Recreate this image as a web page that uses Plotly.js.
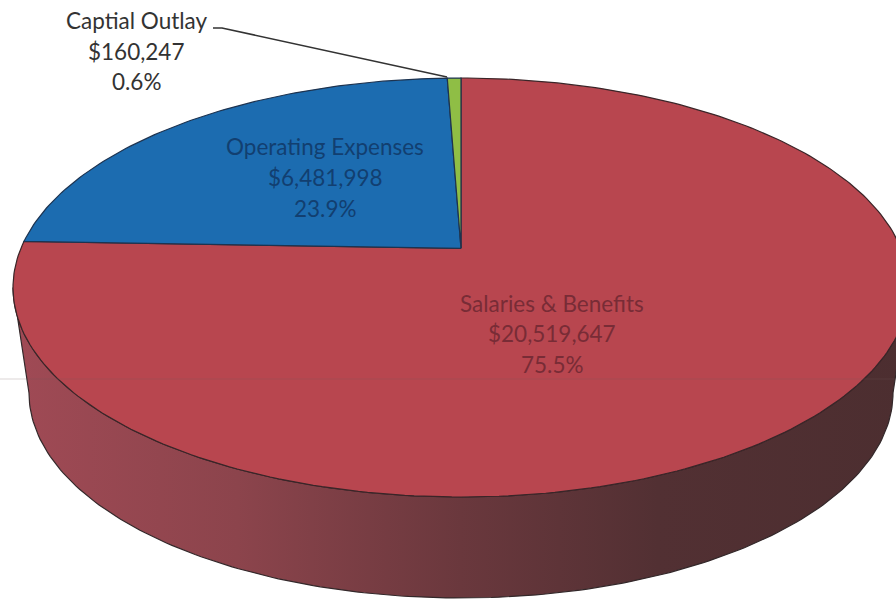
<!DOCTYPE html>
<html>
<head>
<meta charset="utf-8">
<script src="https://cdn.plot.ly/plotly-3.0.1.min.js"></script>
<style>html,body{margin:0;padding:0;background:#fff}#chart{width:896px;height:599px}</style>
</head>
<body>
<div id="chart"></div>
<script>
// Budget split by category, drawn clockwise from twelve o'clock.
const categories = ["Salaries & Benefits", "Operating Expenses", "Captial Outlay"];
const amounts = [20519647, 6481998, 160247];
const amountLabels = ["$20,519,647", "$6,481,998", "$160,247"];
const percentLabels = ["75.5%", "23.9%", "0.6%"];
const sliceColors = ["#b8464f", "#1c6cb0", "#8fbe45"];
const labelColors = ["#782c36", "#123f70", "#333333"];
const labelCentres = [[552, 303], [325, 146], [136, 20]];
const labelLineGaps = [[0, 30, 61], [0, 31, 62], [0, 31, 61]];

// Disc geometry in plot units: top face, tilt of the centre, lower rim.
const face = {cx: 461, cy: 287.5, rx: 448, ry: 209.5, tilt: 0.187};
const rim = {cx: 461, cy: 393, rx: 432, ry: 205};

// Perspective projection of a point on the unit circle onto the top face.
function project(theta) {
  const u = Math.sin(theta), v = Math.cos(theta), a = face.tilt;
  const d = 1 + a * v;
  return [face.cx + face.rx * u * Math.sqrt(1 - a * a) / d,
          face.cy - face.ry * (v + a) / d];
}
const apex = [face.cx, face.cy - face.ry * face.tilt];
const total = amounts.reduce((s, x) => s + x, 0);

const traces = [];

// Side wall: lower half of the top face's rim joined to the lower rim.
const sideX = [], sideY = [];
for (let i = 0; i <= 180; i++) {
  const t = Math.PI * i / 180;
  sideX.push(rim.cx - rim.rx * Math.cos(t));
  sideY.push(rim.cy + rim.ry * Math.sin(t));
}
for (let i = 0; i <= 180; i++) {
  const t = Math.PI * i / 180;
  sideX.push(face.cx + face.rx * Math.cos(t));
  sideY.push(face.cy + face.ry * Math.sin(t));
}
sideX.push(sideX[0]); sideY.push(sideY[0]);
traces.push({
  x: sideX, y: sideY, mode: "lines", fill: "toself",
  line: {color: "#33282a", width: 1.2},
  fillgradient: {type: "horizontal", colorscale: [
    [0, "#a04a55"], [0.25, "#8c444c"], [0.5, "#6a383d"], [0.72, "#523033"], [1, "#4c2e30"]
  ]},
  hoverinfo: "skip", showlegend: false
});

// Top-face wedges, sized from the amounts.
let start = 0;
amounts.forEach((amount, k) => {
  const sweep = 2 * Math.PI * amount / total;
  const steps = Math.max(4, Math.round(360 * amount / total));
  const xs = [apex[0]], ys = [apex[1]];
  for (let i = 0; i <= steps; i++) {
    const p = project(start + sweep * i / steps);
    xs.push(p[0]); ys.push(p[1]);
  }
  xs.push(apex[0]); ys.push(apex[1]);
  traces.push({
    x: xs, y: ys, mode: "lines", fill: "toself", fillcolor: sliceColors[k],
    line: {color: k === 0 ? "#3a2528" : "#1d3350", width: 1.2},
    name: categories[k], hoverinfo: "skip", showlegend: false
  });
  start += sweep;
});

// Leader from the small slice to its label.
traces.push({
  x: [213, 222, 447], y: [28, 28, 77], mode: "lines",
  line: {color: "#333333", width: 1.6}, hoverinfo: "skip", showlegend: false
});

// Three-line labels: name, amount, share.
const annotations = [];
categories.forEach((name, k) => {
  [name, amountLabels[k], percentLabels[k]].forEach((text, line) => {
    annotations.push({
      x: labelCentres[k][0], y: labelCentres[k][1] + labelLineGaps[k][line],
      text: text, showarrow: false, xanchor: "center", yanchor: "middle",
      font: {family: "Lato, 'Open Sans', sans-serif", size: 22.5, color: labelColors[k]}
    });
  });
});

const layout = {
  width: 896, height: 599,
  margin: {l: 0, r: 0, t: 0, b: 0},
  paper_bgcolor: "#ffffff", plot_bgcolor: "#ffffff",
  xaxis: {range: [0, 896], visible: false, fixedrange: true},
  yaxis: {range: [599, 0], visible: false, fixedrange: true},
  annotations: annotations,
  shapes: [{type: "line", xref: "x", yref: "y", x0: 0, x1: 896, y0: 379, y1: 379,
            line: {color: "rgba(110,90,90,0.25)", width: 1}, layer: "above"}]
};

Plotly.newPlot("chart", traces, layout, {displayModeBar: false, staticPlot: true});
</script>
</body>
</html>
